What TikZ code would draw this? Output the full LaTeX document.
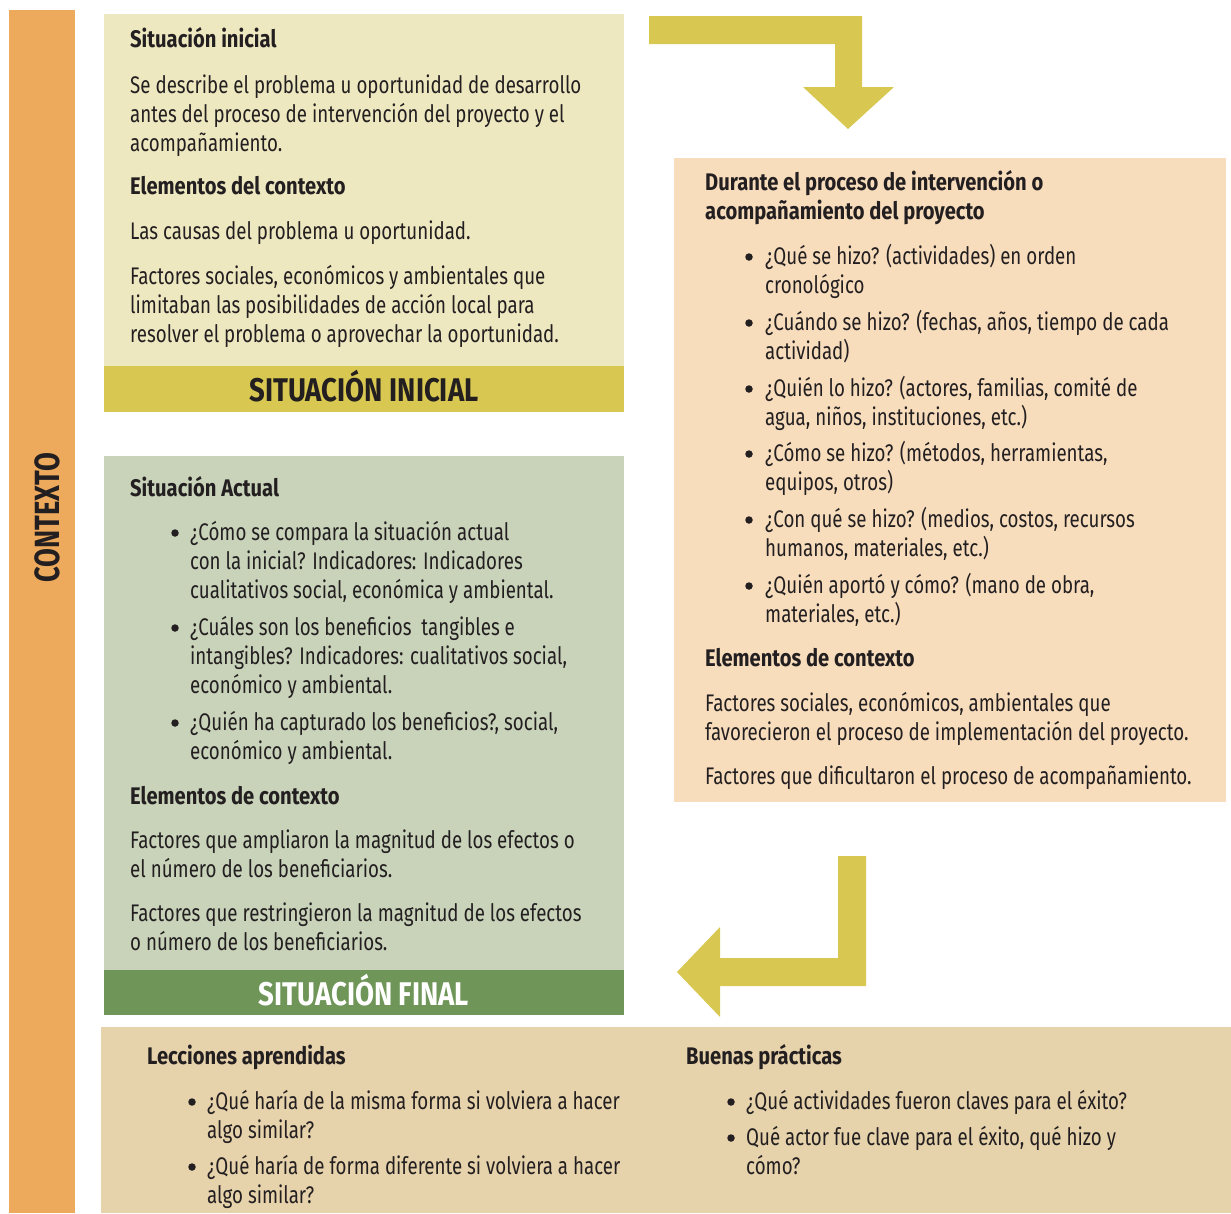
\documentclass[tikz,border=0pt]{standalone}
\usepackage{fontspec}
\setmainfont[FakeStretch=0.78]{Fira Sans}
\newfontfamily\hdfamily[FakeStretch=0.84]{Fira Sans}
\definecolor{ctx}{HTML}{EEAA5C}
\definecolor{ylight}{HTML}{EEE8C0}
\definecolor{yband}{HTML}{D8C851}
\definecolor{glight}{HTML}{C8D3BA}
\definecolor{gband}{HTML}{6F9658}
\definecolor{peach}{HTML}{F8DDBD}
\definecolor{tan}{HTML}{E6D2AB}
\definecolor{tc}{HTML}{231F20}
\newcommand{\bodyfont}{\fontsize{24}{29}\selectfont}
\newcommand{\lns}[1]{\parbox[t]{600pt}{#1}}
\tikzset{
  panel/.style={rectangle, draw=none, inner sep=0, anchor=north west},
  txt/.style={anchor=base west, inner sep=0, text=tc, font=\bodyfont},
  hd/.style={txt, font=\bodyfont\hdfamily\bfseries},
  bulc/.style={circle, fill=tc, draw=none, inner sep=0, minimum size=7.5pt},
  band/.style={anchor=center, inner sep=0, font=\fontsize{32.8}{36}\hdfamily\bfseries},
  blockarrow/.style={fill=yband, draw=none}
}
\begin{document}
\begin{tikzpicture}[x=1pt,y=-1pt]
\useasboundingbox (0,0) rectangle (1231,1213);
% panels
\node[panel, fill=ctx, minimum width=66pt, minimum height=1203pt] (ctxbar) at (9,10) {};
\node[panel, fill=ylight, minimum width=520pt, minimum height=352pt] (ini) at (104,14) {};
\node[panel, fill=yband, minimum width=520pt, minimum height=46pt] (iniband) at (104,366) {};
\node[panel, fill=glight, minimum width=520pt, minimum height=514pt] (fin) at (104,456) {};
\node[panel, fill=gband, minimum width=520pt, minimum height=45pt] (finband) at (104,970) {};
\node[panel, fill=peach, minimum width=552pt, minimum height=644pt] (dur) at (674,158) {};
\node[panel, fill=tan, minimum width=1130pt, minimum height=186pt] (lec) at (101,1027) {};
% block arrows
\fill[blockarrow] (649,16) -- (862,16) -- (862,87) -- (894,87) -- (848,129) -- (803,87) -- (835,87) -- (835,44) -- (649,44) -- cycle;
\fill[blockarrow] (866,856) -- (866,986) -- (720,986) -- (720,1017) -- (677,972) -- (720,927) -- (720,958) -- (838,958) -- (838,856) -- cycle;
% context label
\node[rotate=90, inner sep=0, text=tc, font=\fontsize{35}{40}\selectfont\bfseries] (ctxlbl) at (47,518) {CONTEXTO};
% situacion inicial
\node[hd] (i1) at (130,47) {Situación inicial};
\node[txt] (i2) at (130,93) {\lns{Se describe el problema u oportunidad de desarrollo\\antes del proceso de intervención del proyecto y el\\acompañamiento.}};
\node[hd] (i3) at (130,194) {Elementos del contexto};
\node[txt] (i4) at (130,239) {Las causas del problema u oportunidad.};
\node[txt] (i5) at (130,284) {\lns{Factores sociales, económicos y ambientales que\\limitaban las posibilidades de acción local para\\resolver el problema o aprovechar la oportunidad.}};
\node[band, text=tc] (ibl) at (364,386) {SITUACIÓN INICIAL};
% durante
\node[hd] (d1) at (705,190) {\lns{Durante el proceso de intervención o\\acompañamiento del proyecto}};
\node[bulc] (db1) at (749,257) {};
\node[txt] (d2) at (765,264) {\lns{¿Qué se hizo? (actividades) en orden\\cronológico}};
\node[bulc] (db2) at (749,323) {};
\node[txt] (d3) at (765,330) {\lns{¿Cuándo se hizo? (fechas, años, tiempo de cada\\actividad)}};
\node[bulc] (db3) at (749,389) {};
\node[txt] (d4) at (765,396) {\lns{¿Quién lo hizo? (actores, familias, comité de\\agua, niños, instituciones, etc.)}};
\node[bulc] (db4) at (749,454) {};
\node[txt] (d5) at (765,461) {\lns{¿Cómo se hizo? (métodos, herramientas,\\equipos, otros)}};
\node[bulc] (db5) at (749,520) {};
\node[txt] (d6) at (765,527) {\lns{¿Con qué se hizo? (medios, costos, recursos\\humanos, materiales, etc.)}};
\node[bulc] (db6) at (749,586) {};
\node[txt] (d7) at (765,593) {\lns{¿Quién aportó y cómo? (mano de obra,\\materiales, etc.)}};
\node[hd] (d8) at (705,666) {Elementos de contexto};
\node[txt] (d9) at (705,711) {\lns{Factores sociales, económicos, ambientales que\\favorecieron el proceso de implementación del proyecto.}};
\node[txt] (d10) at (705,784) {Factores que dificultaron el proceso de acompañamiento.};
% situacion actual
\node[hd] (f1) at (130,496) {Situación Actual};
\node[bulc] (fb1) at (175,533) {};
\node[txt] (f2) at (190,540) {\lns{¿Cómo se compara la situación actual\\con la inicial? Indicadores: Indicadores\\cualitativos social, económica y ambiental.}};
\node[bulc] (fb2) at (175,628) {};
\node[txt] (f3) at (190,635) {\lns{¿Cuáles son los beneficios\ \ tangibles e\\intangibles? Indicadores: cualitativos social,\\económico y ambiental.}};
\node[bulc] (fb3) at (175,723) {};
\node[txt] (f4) at (190,730) {\lns{¿Quién ha capturado los beneficios?, social,\\económico y ambiental.}};
\node[hd] (f5) at (130,804) {Elementos de contexto};
\node[txt] (f6) at (130,848) {\lns{Factores que ampliaron la magnitud de los efectos o\\el número de los beneficiarios.}};
\node[txt] (f7) at (130,921) {\lns{Factores que restringieron la magnitud de los efectos\\o número de los beneficiarios.}};
\node[band, text=white] (fbl) at (364,990) {SITUACIÓN FINAL};
% lecciones
\node[hd] (l1) at (147,1064) {Lecciones aprendidas};
\node[bulc] (lb1) at (192,1102) {};
\node[txt] (l2) at (207,1109) {\lns{¿Qué haría de la misma forma si volviera a hacer\\algo similar?}};
\node[bulc] (lb2) at (192,1167) {};
\node[txt] (l3) at (207,1174) {\lns{¿Qué haría de forma diferente si volviera a hacer\\algo similar?}};
% buenas practicas
\node[hd] (b1) at (686,1064) {Buenas prácticas};
\node[bulc] (bb1) at (731,1102) {};
\node[txt] (b2) at (746,1109) {¿Qué actividades fueron claves para el éxito?};
\node[bulc] (bb2) at (731,1138) {};
\node[txt] (b3) at (746,1145) {\lns{Qué actor fue clave para el éxito, qué hizo y\\cómo?}};
\end{tikzpicture}
\end{document}
